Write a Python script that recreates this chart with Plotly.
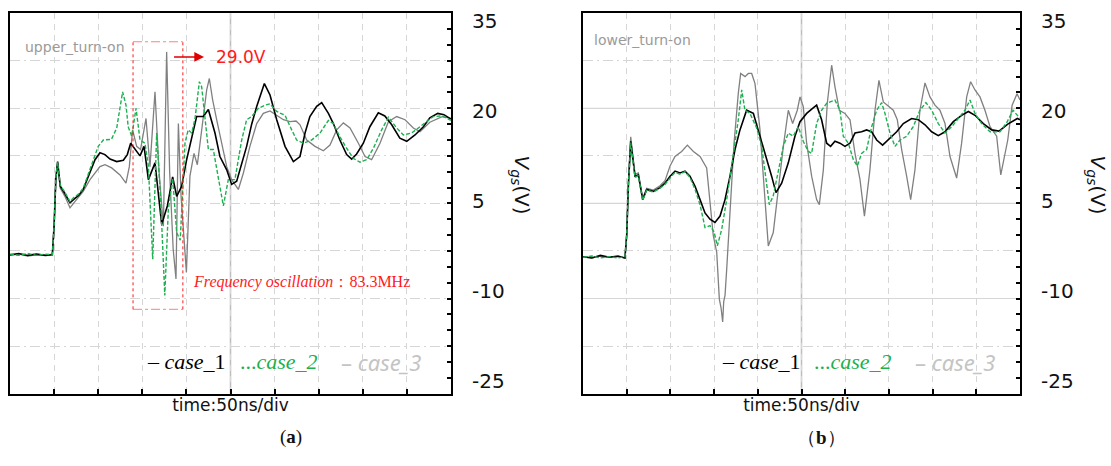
import plotly.graph_objects as go

# ---------------- data (time in ns, 50 ns/div; Vgs in V) ----------------
upper_case1 = [
    (0, -3.1), (10, -2.9), (20, -3.2), (30, -3.0), (40, -3.2), (48, -3.1), (50, 1.5), (52, 9.0), (54, 11.6),
    (57, 7.7), (62, 6.6), (68, 5.1), (72, 5.6), (78, 6.3), (83, 7.2), (90.7, 9.8), (96.4, 11.9), (102, 13.0),
    (107.7, 12.7), (113.4, 12.0), (121, 11.6), (128.5, 11.8), (133, 12.7), (136.8, 14.5), (141.7, 13.5),
    (147.4, 12.5), (152, 14.0), (156.9, 8.75), (164.4, 11.4), (172, 1.7), (178.4, 4.6), (184.4, 9.2),
    (189, 6.1), (194.6, 7.7), (200.3, 11.9), (206, 15.5), (211.6, 18.7), (219.2, 18.7), (224.9, 19.8),
    (232.4, 16.1), (238, 12.4), (245.7, 10.3), (251.3, 8.0), (257, 8.5), (262, 11.0), (268.3, 14.0),
    (274, 17.5), (279.7, 20.3), (288.4, 23.9), (294.8, 22.1), (302.4, 18.2), (311.8, 14.0), (321.3, 11.6),
    (328.8, 12.4), (334.5, 16.1), (340, 18.7), (347.7, 20.3), (353.4, 20.9), (361, 19.2), (366.6, 17.6),
    (374, 15.0), (381.7, 12.7), (387.4, 12.0), (393, 12.8), (400.6, 14.5), (408, 17.1), (417.6, 19.3),
    (425, 18.8), (432.8, 17.4), (442, 15.3), (449.8, 14.8), (459.2, 15.8), (468.7, 17.1), (476, 18.5),
    (485, 19.2), (492, 19.0), (500, 18.3),
]
upper_case2 = [
    (0, -3.0), (10, -3.2), (20, -2.9), (30, -3.2), (40, -3.0), (48, -3.1), (50, 1.5), (52, 9.0), (54, 11.5),
    (57, 7.9), (62, 6.8), (68, 5.3), (72, 5.9), (78, 6.5), (83, 7.4), (90.7, 10.3), (100, 14.0), (105.8, 15.0),
    (115, 15.1), (121, 16.9), (127.7, 22.6), (131.5, 20.5), (134, 17.1), (138, 15.6), (142.9, 20.0),
    (147.4, 15.0), (153, 14.5), (156.9, 10.9), (161.8, -3.8), (166.3, 16.1), (170.8, 5.6), (175.5, -9.5),
    (179.5, 4.0), (184.4, 9.0), (189, 0.4), (193, -0.8), (198.4, 14.5), (202, 16.6), (206, 16.1),
    (209.8, 18.4), (214.7, 24.2), (217.3, 23.4), (221, 18.2), (224.9, 13.5), (230.5, 13.5), (234.3, 10.3),
    (241.9, 4.6), (247.5, 8.75), (255, 8.75), (262.7, 15.0), (268.3, 18.2), (274, 18.7), (281.6, 20.0),
    (289, 20.5), (294.8, 20.7), (302.4, 19.5), (311.8, 18.9), (319.4, 16.6), (325, 15.0), (332.6, 14.5),
    (342, 15.0), (351.5, 16.1), (361, 18.1), (366.6, 17.6), (374, 15.5), (381.7, 13.7), (389.3, 12.1),
    (396.8, 11.5), (404.4, 11.9), (412, 13.7), (421.4, 16.6), (429, 18.6), (438.4, 16.9), (446, 15.8),
    (455.4, 16.1), (464.9, 17.1), (472, 17.8), (480, 18.7), (490, 18.8), (500, 18.1),
]
upper_case3 = [
    (0, -3.2), (10, -3.0), (20, -3.3), (30, -3.1), (40, -3.2), (48, -3.0), (50, 1.2), (52, 8.5), (54, 11.3),
    (57, 7.4), (62, 6.2), (68, 4.3), (72, 5.0), (78, 6.0), (83, 6.9), (90.7, 8.75), (96, 9.8), (102, 10.8),
    (107.7, 11.1), (115.3, 10.6), (124.7, 9.5), (131.5, 8.2), (135.3, 10.8), (139, 16.6), (143.6, 14.0),
    (148, 13.5), (154.2, 18.4), (158.7, 10.8), (164.4, 22.6), (169, 10.0), (173.9, 1.4), (177.6, 28.9),
    (181, 10.0), (185, -2.2), (188.2, -6.9), (190.9, 17.6), (194, 6.0), (196.5, 0.4), (200, -5.9),
    (204, 9.3), (208.6, 12.9), (212.4, 11.1), (219, 18.7), (223, 22.9), (226, 24.7), (229.8, 21.3),
    (234.3, 18.2), (240, 14.5), (245.7, 10.8), (251.3, 8.75), (258.9, 7.2), (264.6, 9.8), (272, 14.0),
    (279.7, 17.6), (287.2, 19.2), (294.8, 19.6), (302.4, 18.9), (310, 18.2), (317.5, 17.9), (324.3, 18.0),
    (328.8, 17.4), (336.4, 15.0), (345.8, 14.0), (355.3, 13.3), (362.8, 14.2), (370.4, 16.6), (378, 17.7),
    (385.5, 16.9), (395, 14.5), (402.5, 12.4), (410, 11.9), (419.5, 14.5), (429, 17.9), (438.4, 18.7),
    (447.9, 18.2), (457.3, 16.9), (464.9, 16.3), (476, 17.8), (490, 18.7), (500, 18.4),
]

lower_case1 = [
    (0, -3.4), (10, -3.6), (20, -3.2), (30, -3.5), (40, -3.3), (48, -3.6), (50, 0.0), (52, 8.0), (54.6, 14.8),
    (59.5, 9.3), (63.3, 9.5), (68.3, 5.6), (72.9, 7.2), (80.5, 6.9), (88.1, 7.5), (93.8, 8.2), (99.6, 9.3),
    (105.3, 10.1), (111, 9.8), (116.7, 10.1), (122.4, 9.3), (128.2, 7.7), (133.9, 5.6), (139.6, 3.5),
    (145.3, 2.5), (151, 2.0), (156.8, 3.0), (162.5, 5.6), (168.2, 9.3), (173.9, 13.5), (179.6, 16.6),
    (187.2, 19.7), (194.9, 19.2), (202.5, 15.6), (210.1, 12.4), (215.8, 9.3), (220.8, 6.7), (227.3, 8.2),
    (234.9, 11.4), (242.5, 15.6), (248.3, 17.9), (255.9, 19.2), (262.7, 20.0), (267.3, 20.5), (273, 18.2),
    (278.8, 14.5), (283.3, 14.0), (288.3, 14.8), (294, 14.5), (299.7, 14.0), (305.5, 14.5), (311.2, 16.1),
    (318.8, 16.3), (324.5, 16.6), (330.3, 16.3), (336, 15.0), (342.8, 14.2), (349.3, 15.0), (358.9, 16.3),
    (366.5, 17.6), (376, 18.4), (383.6, 18.2), (391.3, 17.4), (398.9, 16.3), (406.5, 15.7), (414.2, 16.3),
    (423.7, 17.9), (433.2, 18.9), (440.9, 19.5), (448.5, 18.9), (458, 17.6), (467.6, 16.6), (476, 16.4),
    (486, 17.5), (497, 18.4), (500, 18.2),
]
lower_case2 = [
    (0, -3.5), (10, -3.3), (20, -3.6), (30, -3.4), (40, -3.6), (48, -3.4), (50, 0.0), (52, 8.0), (54.6, 14.6),
    (59.5, 9.1), (63.3, 9.4), (68.3, 5.5), (72.9, 7.1), (80.5, 6.8), (88.1, 7.4), (93.8, 8.0), (99.6, 9.0),
    (105.3, 9.9), (111, 9.6), (116.7, 10.0), (122.4, 9.1), (128.2, 7.2), (133.9, 4.8), (139.6, 1.2),
    (145.3, 1.5), (150, 0.5), (153.7, -1.7), (158.7, 0.9), (164.4, 5.6), (172, 12.9), (177.7, 18.2),
    (181.6, 22.9), (185.3, 19.7), (191, 19.2), (198.7, 16.9), (204.4, 14.0), (208.2, 9.8), (213.2, 4.8),
    (217.7, 6.2), (223.5, 10.3), (229.2, 14.0), (234.9, 16.1), (240.6, 15.6), (246.3, 17.1), (252, 14.8),
    (257.8, 13.2), (261.6, 12.9), (267.3, 17.6), (273, 19.7), (278.8, 20.8), (288.3, 21.3), (294, 19.7),
    (297.8, 15.6), (303.6, 14.5), (309.3, 11.9), (313.9, 10.9), (318.8, 12.9), (324.5, 13.5), (330.3, 17.1),
    (336, 19.7), (341.7, 20.9), (345.5, 19.2), (351.2, 16.1), (357, 14.0), (362.7, 15.0), (370.3, 15.6),
    (377.9, 17.1), (385.5, 19.7), (392.4, 20.9), (398.9, 19.7), (406.5, 17.6), (414.2, 16.1), (421.8, 17.1),
    (429.4, 18.4), (437, 19.7), (442.8, 21.3), (448.5, 19.2), (456.1, 17.6), (465.7, 16.3), (477.1, 16.3),
    (485, 17.8), (492, 19.7), (500, 18.4),
]
lower_case3 = [
    (0, -3.4), (10, -3.6), (20, -3.3), (30, -3.5), (40, -3.4), (48, -3.6), (50, 0.0), (52, 8.5), (54.6, 15.5),
    (59.5, 9.6), (63.3, 9.8), (68.3, 5.8), (72.9, 7.4), (80.5, 7.1), (88.1, 7.8), (93.8, 8.6), (99.6, 10.9),
    (105.3, 12.4), (112.9, 13.2), (119.4, 14.2), (126.3, 13.2), (133.9, 12.4), (141.5, 10.6), (145.3, 5.1),
    (149.1, -0.1), (153, -2.7), (156, -10.1), (158, -11.5), (159.8, -13.7), (161, -10.5), (162.5, -9.5),
    (164.4, -5.4), (168.2, 4.1), (172.8, 14.5), (177.7, 22.4), (180.4, 25.5), (185.4, 25.0), (189.2, 25.5),
    (193, 25.5), (196.8, 23.9), (202.5, 16.6), (208.2, 5.6), (212, -1.7), (217.7, 0.4), (223.5, 7.7),
    (229.2, 14.0), (234.9, 19.7), (239.9, 17.6), (245.2, 19.7), (248.3, 21.8), (252, 20.3), (255.9, 14.5),
    (261.6, 9.3), (267.3, 5.6), (270.4, 4.8), (275, 10.3), (279.5, 20.8), (284.5, 26.8), (288.3, 23.4),
    (293.3, 19.7), (299.7, 19.2), (305.5, 18.2), (311.2, 12.9), (316.9, 8.8), (322, 3.0), (328.3, 10.3),
    (334.1, 19.7), (338.6, 24.4), (343.6, 21.0), (349.3, 20.3), (355, 19.7), (359.6, 18.2), (364.6, 13.5),
    (370.3, 9.3), (374.9, 5.6), (379.8, 10.3), (385.5, 19.7), (391.3, 24.0), (397, 21.8), (402.7, 20.5),
    (408.4, 19.7), (414.2, 17.6), (419.9, 12.4), (427.5, 9.0), (433.2, 14.5), (439, 21.8), (443.5, 24.2),
    (448.5, 22.9), (454.2, 21.8), (459.9, 19.7), (465.7, 17.1), (473.3, 15.6), (478, 9.5), (486, 15.0),
    (491, 20.5), (496.6, 22.3), (500, 21.3),
]

panel_titles = ["upper_turn-on", "lower_turn-on"]
series_names = ["case_1", "case_2", "case_3"]
ytick_vals = [35, 20, 5, -10, -25]
ytick_text = ["35", "20", "5", "-10", "-25"]
peak_label = "29.0V"
osc_label = "Frequency oscillation"
osc_value = "：83.3MHz"

# ---------------- styles ----------------
W, H = 1111, 466
BLACK = "#000000"
GREEN = "#1db050"
GRAY = "#808080"
LGRAY = "#c4c4c4"
GRID = "#d6d6d6"
RED = "#ff1a1a"

def px_x(a, b):
    return [a / W, b / W]

dom_y = [(H - 393) / H, (H - 9.3) / H]
dom_x = [px_x(10, 451), px_x(583, 1020)]

fig = go.Figure()

panels = [(upper_case1, upper_case2, upper_case3), (lower_case1, lower_case2, lower_case3)]
for i, (c1, c2, c3) in enumerate(panels):
    xa = "x" if i == 0 else "x2"
    ya = "y" if i == 0 else "y2"
    for data, col, dash, w, nm in [(c3, GRAY, "solid", 1.3, "case_3"),
                                    (c1, BLACK, "solid", 1.6, "case_1"),
                                    (c2, GREEN, "4px,2px", 1.4, "case_2")]:
        fig.add_trace(go.Scatter(x=[p[0] for p in data], y=[p[1] for p in data], mode="lines",
                                 line=dict(color=col, width=w, dash=dash), name=nm,
                                 showlegend=False, xaxis=xa, yaxis=ya))
    # invisible carrier so that the label axis is drawn
    fig.add_trace(go.Scatter(x=[None], y=[None], mode="lines", showlegend=False, hoverinfo="skip",
                             xaxis=xa, yaxis="y3" if i == 0 else "y4"))

xcommon = dict(range=[0, 500], showline=True, linecolor="black", linewidth=2, mirror=True,
               ticks="inside", ticklen=5, tickwidth=1.5, tickcolor="black", tick0=0, dtick=50,
               showgrid=True, gridcolor=GRID, gridwidth=1, griddash="6px,5px",
               showticklabels=False, zeroline=False,
               title=dict(text="time:50ns/div", font=dict(family="DejaVu Sans", size=17, color="#111"),
                          standoff=4))
ycommon = dict(range=[-25, 35], side="right", showline=True, linecolor="black", linewidth=2, mirror=True,
               ticks="inside", ticklen=4, tickwidth=1.5, tickcolor="black", tick0=5, dtick=7.5,
               minor=dict(dtick=2.5, tick0=0, ticks="inside", ticklen=4, tickwidth=1.5,
                          tickcolor="black", showgrid=False),
               showgrid=True, gridcolor=GRID, gridwidth=1, griddash="10px,4px,2px,4px",
               showticklabels=False, zeroline=False)
# label axis (labels are set slightly inside the frame as in the reference)
ylab = dict(range=[-27.15, 36.27], side="right", showline=False, showgrid=False, zeroline=False,
            ticks="", tickmode="array", tickvals=ytick_vals, ticktext=ytick_text, showticklabels=True,
            tickfont=dict(family="DejaVu Sans", size=20, color="#111"), ticklabelstandoff=20)

fig.update_layout(
    width=W, height=H, margin=dict(l=0, r=0, t=0, b=0),
    paper_bgcolor="white", plot_bgcolor="white",
    xaxis=dict(domain=dom_x[0], anchor="y", **xcommon),
    yaxis=dict(domain=dom_y, anchor="x", **ycommon),
    xaxis2=dict(domain=dom_x[1], anchor="y2", **xcommon),
    yaxis2=dict(domain=dom_y, anchor="x2", **ycommon),
    yaxis3=dict(overlaying="y", anchor="x", **ylab),
    yaxis4=dict(overlaying="y2", anchor="x2", **ylab),
)

shapes = []
for xa, ya in [("x", "y"), ("x2", "y2")]:
    shapes.append(dict(type="line", xref=xa, yref=f"{ya} domain", x0=250, x1=250, y0=0, y1=1,
                       line=dict(color="#bdbdbd", width=1.5), layer="below"))
for v in [20, 5, -10]:
    shapes.append(dict(type="line", xref="x2 domain", yref="y2", x0=0, x1=1, y0=v, y1=v,
                       line=dict(color=GRID, width=1.2), layer="below"))
# red box around oscillation
bx0, bx1, by0, by1 = 139.5, 196, -11.7, 30.5
shapes += [
    dict(type="line", xref="x", yref="y", x0=bx0, x1=bx1, y0=by1, y1=by1, line=dict(color="#ff8080", width=1, dash="dashdot")),
    dict(type="line", xref="x", yref="y", x0=bx0, x1=bx1, y0=by0, y1=by0, line=dict(color="#ff8080", width=1, dash="dashdot")),
    dict(type="line", xref="x", yref="y", x0=bx0, x1=bx0, y0=by0, y1=by1, line=dict(color=RED, width=1, dash="dot")),
    dict(type="line", xref="x", yref="y", x0=bx1, x1=bx1, y0=by0, y1=by1, line=dict(color=RED, width=1, dash="dot")),
]
fig.update_layout(shapes=shapes)

ann = []
# panel titles
ann.append(dict(text=panel_titles[0], xref="x", yref="y", x=14.7, y=29.7, xanchor="left", yanchor="middle",
                showarrow=False, font=dict(family="DejaVu Sans", size=14, color="#9a9a9a")))
ann.append(dict(text=panel_titles[1], xref="x2", yref="y2", x=9.8, y=30.8, xanchor="left", yanchor="middle",
                showarrow=False, font=dict(family="DejaVu Sans", size=14, color="#9a9a9a")))
# arrow & peak label
ann.append(dict(text=" ", xref="x", yref="y", axref="x", ayref="y", x=220, y=28.1, ax=182.6, ay=28.1,
                showarrow=True, arrowhead=2, arrowsize=1.3, arrowwidth=1.5, arrowcolor="#e00000"))
ann.append(dict(text=peak_label, xref="x", yref="y", x=231, y=28.1, xanchor="left", yanchor="middle",
                showarrow=False, font=dict(family="DejaVu Sans", size=17, color=RED)))
ann.append(dict(text=f"<i>{osc_label}</i>{osc_value}", xref="x", yref="y", x=205, y=-7.4,
                xanchor="left", yanchor="middle", showarrow=False,
                font=dict(family="Liberation Serif", size=16, color=RED)))
# legends (text style as in the reference)
leg_x = [[153, 258, 373], [156.8, 262, 377.6]]
for i, (xa, ya) in enumerate([("x", "y"), ("x2", "y2")]):
    ann.append(dict(text="– <i>case</i>_1", xref=xa, yref=ya, x=leg_x[i][0], y=-20, xanchor="left",
                    yanchor="middle", showarrow=False,
                    font=dict(family="Liberation Serif", size=22, color=BLACK)))
    ann.append(dict(text="...<i>case_2</i>", xref=xa, yref=ya, x=leg_x[i][1], y=-20, xanchor="left",
                    yanchor="middle", showarrow=False,
                    font=dict(family="Liberation Serif", size=22, color=GREEN)))
    ann.append(dict(text="– <i>case_3</i>", xref=xa, yref=ya, x=leg_x[i][2], y=-20, xanchor="left",
                    yanchor="middle", showarrow=False,
                    font=dict(family="Noto Sans", size=22, color=LGRAY)))
# y titles (rotated, reading downwards)
for xp in [521 / W, 1097 / W]:
    ann.append(dict(text="<i>V<sub>gs</sub></i>(V)", xref="paper", yref="paper", x=xp, y=(H - 182) / H,
                    textangle=90, showarrow=False, xanchor="center", yanchor="middle",
                    font=dict(family="DejaVu Sans", size=20, color="#111")))
# sub-captions
ann.append(dict(text="(<b>a</b>)", xref="paper", yref="paper", x=278 / W, y=(H - 450) / H,
                showarrow=False, font=dict(family="Liberation Serif", size=19, color="#111")))
ann.append(dict(text="（<b>b</b>）", xref="paper", yref="paper", x=848 / W, y=(H - 450) / H,
                showarrow=False, font=dict(family="Liberation Serif", size=19, color="#111")))
fig.update_layout(annotations=ann)

fig.write_html("out.html", config={"displayModeBar": False},
               post_script="document.body.style.margin='0';")
